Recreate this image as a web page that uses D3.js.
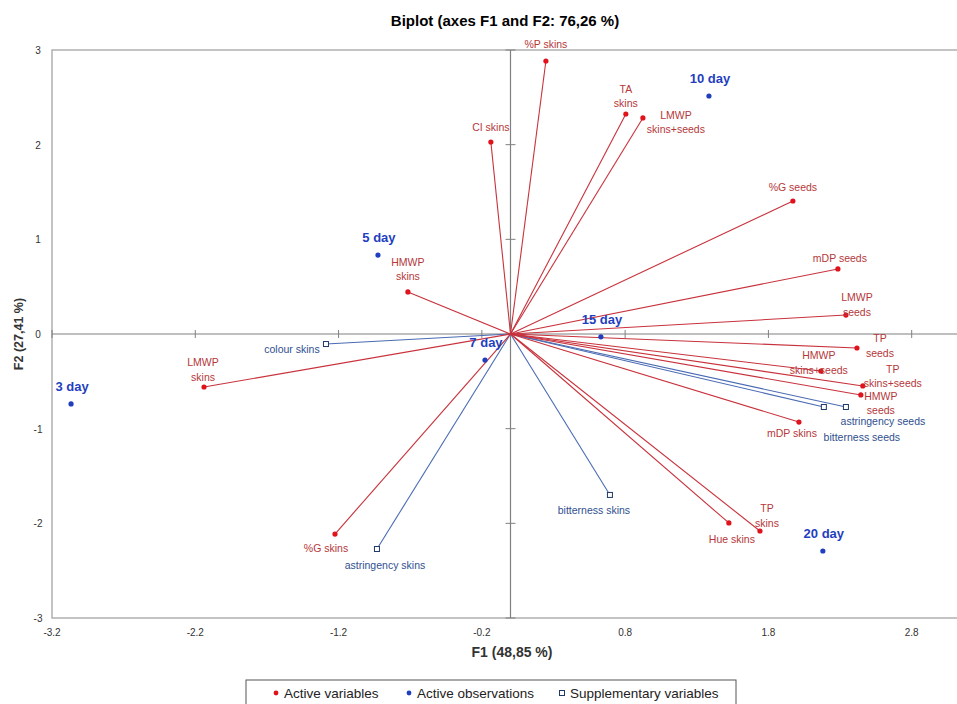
<!DOCTYPE html>
<html>
<head>
<meta charset="utf-8">
<script src="https://cdn.jsdelivr.net/npm/d3@7"></script>
<style>
  body { margin: 0; background: #fff; }
  svg { display: block; }
  .lbl { font-family: "Liberation Sans", Arial, sans-serif; font-size: 10.5px; }
</style>
</head>
<body>
<svg id="chart" width="957" height="704"></svg>
<script>
const W = 957, H = 704;

// active variables (F1, F2)
const activeVarNames = ["%P skins", "TA skins", "LMWP skins+seeds", "CI skins", "%G seeds", "mDP seeds",
  "LMWP seeds", "TP seeds", "HMWP skins+seeds", "TP skins+seeds", "HMWP seeds", "mDP skins",
  "HMWP skins", "LMWP skins", "%G skins", "Hue skins", "TP skins"];
const activeVarF1 = [0.247, 0.805, 0.924, -0.137, 1.971, 2.285, 2.341, 2.418, 2.166, 2.459, 2.445, 2.013,
  -0.716, -2.139, -1.225, 1.524, 1.741];
const activeVarF2 = [2.884, 2.324, 2.282, 2.028, 1.405, 0.687, 0.200, -0.148, -0.391, -0.549, -0.644, -0.930,
  0.444, -0.560, -2.113, -1.996, -2.081];

// active observations
const obsNames = ["3 day", "5 day", "7 day", "10 day", "15 day", "20 day"];
const obsF1 = [-3.067, -0.925, -0.178, 1.385, 0.631, 2.180];
const obsF2 = [-0.739, 0.834, -0.275, 2.514, -0.030, -2.292];

// supplementary variables
const suppNames = ["colour skins", "astringency skins", "bitterness skins", "bitterness seeds", "astringency seeds"];
const suppF1 = [-1.288, -0.932, 0.694, 2.187, 2.341];
const suppF2 = [-0.106, -2.271, -1.700, -0.771, -0.771];

const xTicks = [-3.2, -2.2, -1.2, -0.2, 0.8, 1.8, 2.8];
const yTicks = [-3, -2, -1, 0, 1, 2, 3];

// label placement: [dx, dy] of first line relative to the point, multi-line split on "|"
const labelPos = {
  "%P skins": [0, -17, "%P skins"],
  "TA skins": [0, -25, "TA|skins"],
  "LMWP skins+seeds": [33, -3, "LMWP|skins+seeds"],
  "CI skins": [0, -15, "CI skins"],
  "%G seeds": [0, -14, "%G seeds"],
  "mDP seeds": [2, -11, "mDP seeds"],
  "LMWP seeds": [11, -18, "LMWP|seeds"],
  "TP seeds": [23, -10, "TP|seeds"],
  "HMWP skins+seeds": [-2, -16, "HMWP|skins+seeds"],
  "TP skins+seeds": [30, -17, "TP|skins+seeds"],
  "HMWP seeds": [20, 1, "HMWP|seeds"],
  "mDP skins": [-7, 11, "mDP skins"],
  "HMWP skins": [0, -30, "HMWP|skins"],
  "LMWP skins": [-1, -25, "LMWP|skins"],
  "%G skins": [-9, 14, "%G skins"],
  "Hue skins": [3, 16, "Hue skins"],
  "TP skins": [7, -23, "TP|skins"],
  "colour skins": [-34, 5, "colour skins"],
  "astringency skins": [8, 16, "astringency skins"],
  "bitterness skins": [-16, 15, "bitterness skins"],
  "bitterness seeds": [38, 30, "bitterness seeds"],
  "astringency seeds": [37, 14, "astringency seeds"]
};

const svg = d3.select("#chart");

const x = d3.scaleLinear().domain([-3.2, 3.2]).range([52, 969]);
const y = d3.scaleLinear().domain([-3, 3]).range([618, 50]);

const redLine = "#c8323c", redDot = "#e0121b", redText = "#b5373a";
const blueLine = "#4a6bb3", blueText = "#2f4f8f", obsBlue = "#1f3fbf", sqStroke = "#1f3864";

// frame
svg.append("path")
  .attr("d", `M${W},${y(3)}H${x(-3.2)}V${y(-3)}H${W}`)
  .attr("fill", "none").attr("stroke", "#b0b0b0").attr("stroke-width", 1.5);

// zero axes
svg.append("line").attr("x1", x(-3.2)).attr("x2", W).attr("y1", y(0)).attr("y2", y(0))
  .attr("stroke", "#808080").attr("stroke-width", 1.2);
svg.append("line").attr("x1", x(0)).attr("x2", x(0)).attr("y1", y(3)).attr("y2", y(-3))
  .attr("stroke", "#808080").attr("stroke-width", 1.2);

// little ticks on the zero axes
svg.selectAll(".ytk").data(yTicks).enter().append("line")
  .attr("x1", x(0) - 5).attr("x2", x(0) + 5)
  .attr("y1", d => y(d)).attr("y2", d => y(d))
  .attr("stroke", "#808080");
svg.selectAll(".xtk").data(xTicks).enter().append("line")
  .attr("x1", d => x(d)).attr("x2", d => x(d))
  .attr("y1", y(0) - 4).attr("y2", y(0) + 4)
  .attr("stroke", "#808080");

// tick labels
svg.selectAll(".xtl").data(xTicks).enter().append("text")
  .attr("x", d => x(d)).attr("y", 636)
  .attr("text-anchor", "middle")
  .style("font-family", "'Liberation Sans Narrow', 'Liberation Sans', sans-serif")
  .style("font-size", "10px").attr("fill", "#333")
  .text(d => d.toFixed(1));
svg.selectAll(".ytl").data(yTicks).enter().append("text")
  .attr("x", 38).attr("y", d => y(d) + 4)
  .attr("text-anchor", "middle")
  .style("font-family", "'Liberation Sans Narrow', 'Liberation Sans', sans-serif")
  .style("font-size", "10px").attr("fill", "#333")
  .text(d => d);

// titles
svg.append("text").attr("x", 505).attr("y", 26).attr("text-anchor", "middle")
  .style("font-family", "'Liberation Sans Narrow', 'Liberation Sans', sans-serif")
  .style("font-size", "15px").style("font-weight", "bold")
  .text("Biplot (axes F1 and F2: 76,26 %)");
svg.append("text").attr("x", 512).attr("y", 657).attr("text-anchor", "middle")
  .style("font-family", "'Liberation Sans Narrow', 'Liberation Sans', sans-serif")
  .style("font-size", "14px").style("font-weight", "bold").attr("fill", "#333")
  .text("F1 (48,85 %)");
svg.append("text").attr("transform", `translate(23,${y(0)}) rotate(-90)`).attr("text-anchor", "middle")
  .style("font-family", "'Liberation Sans', sans-serif")
  .style("font-size", "12.5px").style("font-weight", "bold").attr("fill", "#333")
  .text("F2 (27,41 %)");

const activeVars = activeVarNames.map((n, i) => ({ name: n, f1: activeVarF1[i], f2: activeVarF2[i] }));
const obs = obsNames.map((n, i) => ({ name: n, f1: obsF1[i], f2: obsF2[i] }));
const supp = suppNames.map((n, i) => ({ name: n, f1: suppF1[i], f2: suppF2[i] }));

// vectors
svg.selectAll(".sv").data(supp).enter().append("line")
  .attr("x1", x(0)).attr("y1", y(0))
  .attr("x2", d => x(d.f1)).attr("y2", d => y(d.f2))
  .attr("stroke", blueLine).attr("stroke-width", 1.1);
svg.selectAll(".av").data(activeVars).enter().append("line")
  .attr("x1", x(0)).attr("y1", y(0))
  .attr("x2", d => x(d.f1)).attr("y2", d => y(d.f2))
  .attr("stroke", redLine).attr("stroke-width", 1.1);

// points
svg.selectAll(".ap").data(activeVars).enter().append("circle")
  .attr("cx", d => x(d.f1)).attr("cy", d => y(d.f2)).attr("r", 2.6)
  .attr("fill", redDot);
svg.selectAll(".sp").data(supp).enter().append("rect")
  .attr("x", d => x(d.f1) - 2.5).attr("y", d => y(d.f2) - 2.5)
  .attr("width", 5).attr("height", 5)
  .attr("fill", "#fff").attr("stroke", sqStroke).attr("stroke-width", 1);
svg.selectAll(".op").data(obs).enter().append("circle")
  .attr("cx", d => x(d.f1)).attr("cy", d => y(d.f2)).attr("r", 2.6)
  .attr("fill", obsBlue);

// labels
function drawLabels(data, color) {
  data.forEach(d => {
    const p = labelPos[d.name];
    const t = svg.append("text").attr("class", "lbl").attr("fill", color)
      .attr("text-anchor", "middle");
    p[2].split("|").forEach((s, k) => {
      t.append("tspan").attr("x", x(d.f1) + p[0]).attr("y", y(d.f2) + p[1] + k * 14.5 + 4).text(s);
    });
  });
}
drawLabels(activeVars, redText);
drawLabels(supp, blueText);

svg.selectAll(".ol").data(obs).enter().append("text")
  .attr("x", d => x(d.f1) + 1).attr("y", d => y(d.f2) - 13)
  .attr("text-anchor", "middle")
  .style("font-family", "'Liberation Sans', sans-serif")
  .style("font-size", "13px").style("font-weight", "bold")
  .attr("fill", obsBlue)
  .text(d => d.name);

// legend
const lg = svg.append("g");
lg.append("rect").attr("x", 246).attr("y", 680).attr("width", 490).attr("height", 40)
  .attr("fill", "#fff").attr("stroke", "#555").attr("stroke-width", 1);
const legendItems = [
  { label: "Active variables", kind: "dot", color: redDot, x: 276 },
  { label: "Active observations", kind: "dot", color: obsBlue, x: 409 },
  { label: "Supplementary variables", kind: "sq", color: sqStroke, x: 562 }
];
legendItems.forEach(it => {
  if (it.kind === "dot") {
    lg.append("circle").attr("cx", it.x).attr("cy", 693).attr("r", 2.4).attr("fill", it.color);
  } else {
    lg.append("rect").attr("x", it.x - 2.5).attr("y", 690.5).attr("width", 5).attr("height", 5)
      .attr("fill", "#fff").attr("stroke", it.color);
  }
  lg.append("text").attr("x", it.x + 8).attr("y", 698)
    .style("font-family", "'Liberation Sans', sans-serif").style("font-size", "13.5px")
    .attr("fill", "#222").text(it.label);
});
</script>
</body>
</html>
